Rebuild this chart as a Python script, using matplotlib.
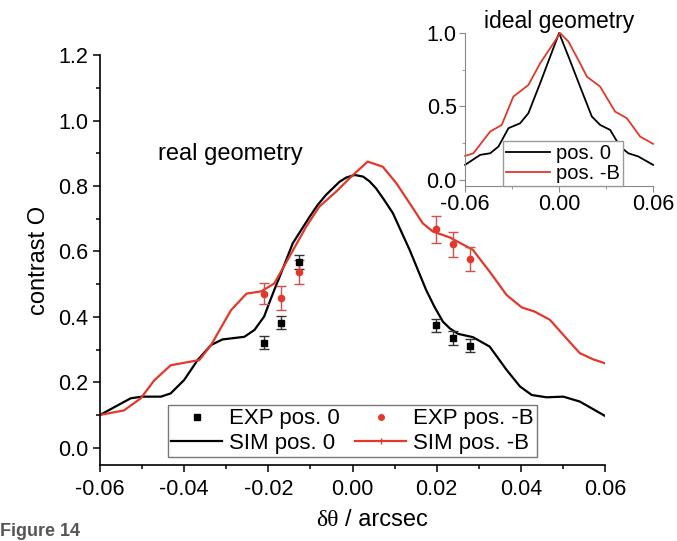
import matplotlib

matplotlib.use("Agg")
import matplotlib.pyplot as plt
from matplotlib.lines import Line2D
from matplotlib.ticker import FormatStrFormatter, MultipleLocator

# main panel: simulated curves (real geometry)
sim0_x = [-0.060, -0.0527, -0.050, -0.0455, -0.0432, -0.040, -0.0368, -0.0336,
          -0.0309, -0.0257, -0.0233, -0.021, -0.0198, -0.0186, -0.0174, -0.0142,
          -0.0102, -0.0083, -0.0063, -0.0031, -0.0015, 0.0005, 0.0025, 0.004,
          0.0056, 0.0075, 0.0096, 0.0136, 0.0175, 0.0195, 0.0215, 0.0231,
          0.0251, 0.0286, 0.0326, 0.0366, 0.0398, 0.0426, 0.0461, 0.0501,
          0.054, 0.060]
sim0_y = [0.100, 0.151, 0.156, 0.156, 0.166, 0.207, 0.268, 0.314,
          0.331, 0.339, 0.360, 0.401, 0.442, 0.482, 0.520, 0.625,
          0.706, 0.742, 0.773, 0.813, 0.826, 0.834, 0.829, 0.815,
          0.793, 0.758, 0.717, 0.604, 0.482, 0.430, 0.385, 0.365,
          0.348, 0.338, 0.309, 0.238, 0.187, 0.161, 0.154, 0.156,
          0.141, 0.097]

simB_x = [-0.060, -0.0543, -0.0503, -0.0471, -0.0432, -0.0364, -0.0336, -0.0289,
          -0.0252, -0.0217, -0.0186, -0.015, -0.011, -0.0079, -0.0039, -0.0007,
          0.0036, 0.0072, 0.0104, 0.0136, 0.0167, 0.0191, 0.0231, 0.0286,
          0.0326, 0.0366, 0.0402, 0.0433, 0.0469, 0.0505, 0.054, 0.0572, 0.060]
simB_y = [0.100, 0.114, 0.151, 0.206, 0.252, 0.268, 0.314, 0.420,
          0.471, 0.478, 0.502, 0.584, 0.676, 0.737, 0.783, 0.824,
          0.875, 0.859, 0.809, 0.747, 0.686, 0.661, 0.643, 0.605,
          0.538, 0.467, 0.429, 0.416, 0.391, 0.339, 0.289, 0.270, 0.258]

# measured points
exp_x = [-0.0211, -0.0171, -0.0128, 0.0199, 0.0239, 0.028]
exp0_y = [0.321, 0.382, 0.567, 0.375, 0.335, 0.312]
exp0_err = [0.020, 0.020, 0.022, 0.020, 0.022, 0.020]
expB_y = [0.471, 0.457, 0.538, 0.668, 0.622, 0.577]
expB_err = [0.032, 0.036, 0.037, 0.042, 0.038, 0.037]

# inset: ideal geometry
ideal0_x = [-0.060, -0.0504, -0.044, -0.0387, -0.0323, -0.0249, -0.0196, -0.0121,
            -0.0057, 0.0, 0.006, 0.0134, 0.0209, 0.0262, 0.0326, 0.0389,
            0.0442, 0.0506, 0.060]
ideal0_y = [0.102, 0.170, 0.181, 0.227, 0.352, 0.385, 0.454, 0.658,
            0.839, 1.000, 0.839, 0.635, 0.431, 0.374, 0.340, 0.227,
            0.181, 0.159, 0.102]
idealB_x = [-0.060, -0.0547, -0.044, -0.0366, -0.0292, -0.0196, -0.0121, -0.0036,
            0.0006, 0.006, 0.0134, 0.0177, 0.0262, 0.0357, 0.0432, 0.0517, 0.060]
idealB_y = [0.163, 0.181, 0.329, 0.374, 0.567, 0.646, 0.794, 0.930,
            1.000, 0.941, 0.794, 0.703, 0.635, 0.465, 0.420, 0.295, 0.245]

RED = "#e2382b"
plt.rcParams["font.family"] = ["Liberation Sans", "DejaVu Sans"]
plt.rcParams["axes.unicode_minus"] = False

fig = plt.figure(figsize=(6.77, 5.41), dpi=100)
ax = fig.add_axes([0.1477, 0.1405, 0.746, 0.7573])

ax.plot(sim0_x, sim0_y, color="black", lw=1.6)
ax.plot(simB_x, simB_y, color=RED, lw=1.6)
ax.errorbar(exp_x, exp0_y, yerr=exp0_err, fmt="s", color="black", ms=4,
            ecolor="#333333", elinewidth=1, capsize=3.5)
ax.errorbar(exp_x, expB_y, yerr=expB_err, fmt="o", color=RED, ms=4.5,
            ecolor="#d0504a", elinewidth=1, capsize=3.5)

ax.set_xlim(-0.06, 0.06)
ax.set_ylim(-0.053, 1.2)
ax.xaxis.set_major_locator(MultipleLocator(0.02))
ax.xaxis.set_minor_locator(MultipleLocator(0.01))
ax.yaxis.set_major_locator(MultipleLocator(0.2))
ax.yaxis.set_minor_locator(MultipleLocator(0.1))
ax.xaxis.set_major_formatter(FormatStrFormatter("%.2f"))
ax.yaxis.set_major_formatter(FormatStrFormatter("%.1f"))
ax.tick_params(which="major", length=5, width=1.1, labelsize=15.5)
ax.tick_params(axis="x", pad=5)
ax.tick_params(which="minor", length=3, width=1.1)
for s in ("top", "right"):
    ax.spines[s].set_visible(False)
for s in ("left", "bottom"):
    ax.spines[s].set_linewidth(1.2)

ax.set_ylabel("contrast O", fontsize=17, labelpad=6)
ax.text(0.115, 0.745, "real geometry", transform=ax.transAxes, fontsize=17)

handles = [
    Line2D([], [], ls="none", marker="s", color="black", ms=4),
    Line2D([], [], color="black", lw=1.6),
    Line2D([], [], ls="none", marker="o", color=RED, ms=4),
    Line2D([], [], color=RED, lw=1.6, marker="|", ms=4, markevery=[1]),
]
labels = ["EXP pos. 0", "SIM pos. 0", "EXP pos. -B", "SIM pos. -B"]
ax.legend(handles, labels, ncol=2, loc="lower left", mode="expand",
          bbox_to_anchor=(168 / 677, 1 - 457 / 541, 369 / 677, 55 / 541),
          bbox_transform=fig.transFigure, borderaxespad=0, fontsize=16,
          handlelength=2.3, handletextpad=0.3, columnspacing=0.5,
          labelspacing=0.15, borderpad=0.15, fancybox=False,
          edgecolor="#777777", framealpha=1)

# x label: greek part in a serif face
fig.text(0.51, 0.028, "/ arcsec", fontsize=17, ha="left", va="baseline")
fig.text(0.5, 0.028, "δθ", fontsize=17, ha="right", va="baseline",
         family="Liberation Serif")
fig.text(0.0, 0.002, "Figure 14", fontsize=13, fontweight="bold",
         color="#555555", ha="left", va="bottom")

# inset
ins = fig.add_axes([0.687, 0.6567, 0.2777, 0.2823])
ins.plot(ideal0_x, ideal0_y, color="black", lw=1.3, clip_on=False,
         label="pos. 0")
ins.plot(idealB_x, idealB_y, color=RED, lw=1.3, clip_on=False,
         label="pos. -B")
ins.set_xlim(-0.06, 0.06)
ins.set_ylim(-0.04, 1.0)
ins.set_xticks([-0.06, 0.0, 0.06])
ins.set_yticks([0.0, 0.5, 1.0])
ins.xaxis.set_minor_locator(MultipleLocator(0.03))
ins.yaxis.set_minor_locator(MultipleLocator(0.25))
ins.xaxis.set_major_formatter(FormatStrFormatter("%.2f"))
ins.yaxis.set_major_formatter(FormatStrFormatter("%.1f"))
ins.tick_params(which="major", length=4, color="#888888", labelsize=15.5,
                pad=2)
ins.tick_params(which="minor", length=2.5, color="#888888")
for s in ("top", "right"):
    ins.spines[s].set_visible(False)
for s in ("left", "bottom"):
    ins.spines[s].set_color("#888888")
ins.set_title("ideal geometry", fontsize=16.5, pad=2)
ins.legend(loc="lower left", bbox_to_anchor=(0.2, 0.0), borderaxespad=0,
           fontsize=14.5, handlelength=2.2, handletextpad=0.3,
           labelspacing=0.05, borderpad=0.15, fancybox=False,
           edgecolor="#999999", framealpha=1)

fig.savefig("out.png", dpi=100)
